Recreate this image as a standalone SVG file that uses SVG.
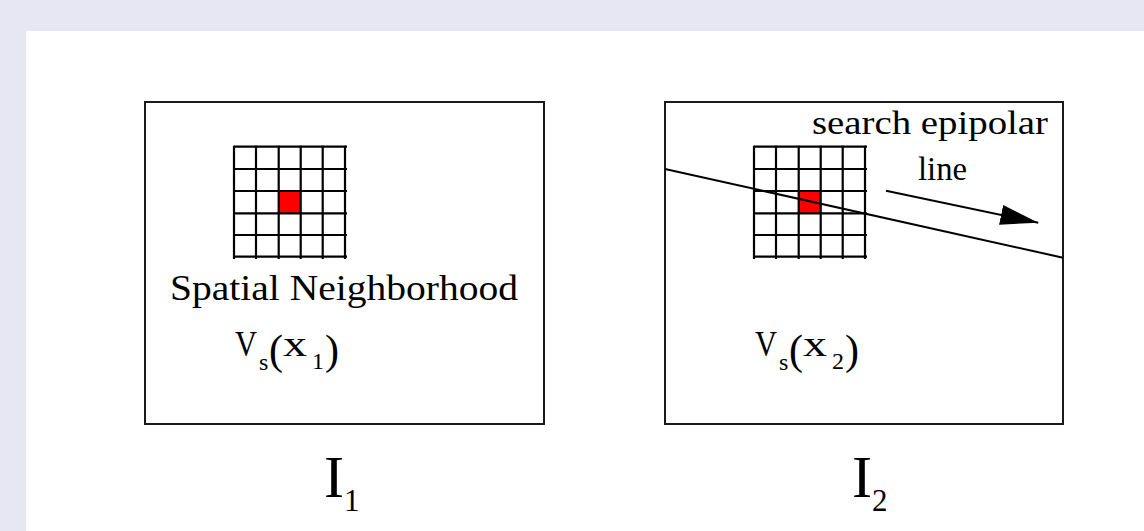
<svg xmlns="http://www.w3.org/2000/svg" width="1144" height="531" viewBox="0 0 1144 531">
<style>
.frame{fill:#fff;stroke:#1a1a1a;stroke-width:2}
.grid line{stroke:#000;stroke-width:2.2}
.cell{fill:#ff0000}
text{font-family:"Liberation Serif","Times New Roman",serif;fill:#000}
.main{font-size:35px}
.sub{font-size:24px}
.par{font-size:42px}
.conn{stroke:#000;stroke-width:2;fill:none}
</style>
<defs>
<marker id="head" markerUnits="userSpaceOnUse" markerWidth="42" markerHeight="22" refX="38" refY="10" orient="auto">
<path d="M0,0 L38,10 L0,20 Z" fill="#000"/>
</marker>
<g id="gridTpl" class="grid">
<rect class="cell" x="279" y="191.5" width="21.5" height="21.5"/>
<line x1="234" y1="146.7" x2="347" y2="146.7"/>
<line x1="234" y1="169" x2="347" y2="169"/>
<line x1="234" y1="191" x2="347" y2="191"/>
<line x1="234" y1="213.3" x2="347" y2="213.3"/>
<line x1="234" y1="235" x2="347" y2="235"/>
<line x1="234" y1="256.7" x2="347" y2="256.7"/>
<line x1="234" y1="145.7" x2="234" y2="259"/>
<line x1="256" y1="145.7" x2="256" y2="259"/>
<line x1="278.7" y1="145.7" x2="278.7" y2="259"/>
<line x1="300.7" y1="145.7" x2="300.7" y2="259"/>
<line x1="322.7" y1="145.7" x2="322.7" y2="259"/>
<line x1="345" y1="145.7" x2="345" y2="259"/>
</g>
</defs>
<rect x="0" y="0" width="1144" height="531" fill="#e7e7f3"/>
<rect x="26" y="31" width="1118" height="500" fill="#fff"/>

<g id="image1">
<rect class="frame" x="145" y="102" width="399" height="322"/>
<use href="#gridTpl"/>
<text x="170" y="300" font-size="35" textLength="348" lengthAdjust="spacingAndGlyphs">Spatial Neighborhood</text>
<g id="vs1">
<text class="main" x="235" y="356" textLength="22" lengthAdjust="spacingAndGlyphs">V</text>
<text class="sub" x="259" y="370">s</text>
<text class="par" x="269" y="364">(</text>
<text class="main" x="283" y="356" textLength="24" lengthAdjust="spacingAndGlyphs">x</text>
<text class="sub" x="312" y="369">1</text>
<text class="par" x="325" y="364">)</text>
</g>
</g>

<g id="image2">
<rect class="frame" x="665" y="102" width="398" height="322"/>
<use href="#gridTpl" x="520"/>
<text x="812" y="134" font-size="33" textLength="236" lengthAdjust="spacingAndGlyphs">search epipolar</text>
<text x="918" y="180" font-size="33" textLength="49" lengthAdjust="spacingAndGlyphs">line</text>
<g id="vs2">
<text class="main" x="755" y="356" textLength="22" lengthAdjust="spacingAndGlyphs">V</text>
<text class="sub" x="779" y="370">s</text>
<text class="par" x="789" y="364">(</text>
<text class="main" x="803" y="356" textLength="24" lengthAdjust="spacingAndGlyphs">x</text>
<text class="sub" x="832" y="369">2</text>
<text class="par" x="845" y="364">)</text>
</g>
</g>

<g id="label1">
<text x="324" y="497" font-size="60">I</text>
<text x="344" y="511" font-size="31">1</text>
</g>
<g id="label2">
<text x="852" y="497" font-size="60">I</text>
<text x="872" y="511" font-size="31">2</text>
</g>

<g id="connectors">
<line class="conn" x1="665" y1="169" x2="1063" y2="257.7"/>
<line class="conn" x1="886" y1="190.7" x2="1038.3" y2="222.7" marker-end="url(#head)"/>
</g>
</svg>
